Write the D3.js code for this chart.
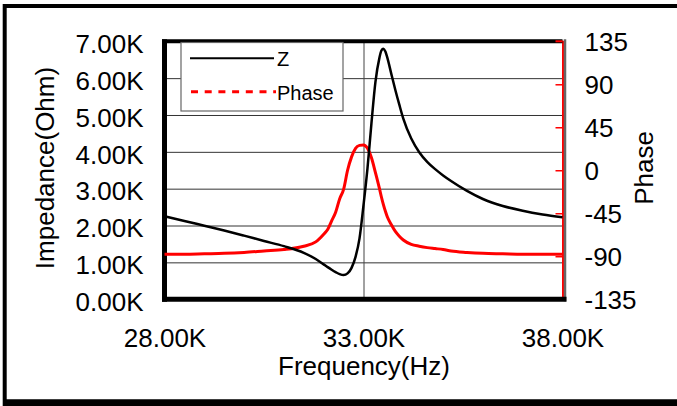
<!DOCTYPE html>
<html>
<head>
<meta charset="utf-8">
<script src="https://cdn.jsdelivr.net/npm/d3@7"></script>
<style>
body { margin: 0; background: #fff; }
svg { display: block; font-family: "Liberation Sans", Arial, sans-serif; }
</style>
</head>
<body>
<svg id="chart" width="677" height="406"></svg>
<script>
// frequency sweep (Hz) with impedance (Ohm) and phase (deg)
const freq = [28000, 28500, 29000, 29500, 30000, 30500, 31000, 31500, 31800, 32000,
    32100, 32200, 32300, 32400, 32500, 32600, 32700, 32800, 32900, 33000,
    33100, 33200, 33300, 33400, 33450, 33500, 33550, 33600, 33700, 33800,
    33900, 34000, 34200, 34400, 34600, 34800, 35000, 35200, 35600, 36000,
    36500, 37000, 37500, 38000];
const impedance = [2250, 2125, 1995, 1865, 1725, 1580, 1440, 1260, 1090, 945,
    870, 800, 735, 680, 655, 700, 850, 1150, 1650, 2550,
    3550, 4780, 5900, 6550, 6750, 6800, 6720, 6550, 6110, 5680,
    5280, 4900, 4360, 3990, 3730, 3530, 3360, 3210, 2940, 2720,
    2530, 2400, 2300, 2225];
const phase = [-88, -88, -87.5, -87, -86, -84.5, -83, -79.5, -75, -67,
    -62, -53, -44, -30, -20, 0, 14, 23, 26, 26.5,
    23, 13, -2.5, -19, -28, -36, -43, -49, -57, -64,
    -69, -73, -77.5, -79.5, -81, -82, -83, -84.5, -86, -87,
    -87.5, -88, -88, -88];

const freqTicks = [28000, 33000, 38000];
const zTicks = [0, 1000, 2000, 3000, 4000, 5000, 6000, 7000];
const phaseTicks = [-135, -90, -45, 0, 45, 90, 135];
const seriesNames = ["Z", "Phase"];

const svg = d3.select("#chart");
const plotL = 164.5, plotR = 562.5, plotT = 41.3, plotB = 299.2;

const x = d3.scaleLinear().domain([28000, 38000]).range([plotL, plotR]);
const yZ = d3.scaleLinear().domain([0, 7000]).range([plotB, plotT]);
const yP = d3.scaleLinear().domain([-135, 135]).range([plotB, plotT]);

const kfmt = d => (d / 1000).toFixed(2) + "K";

// outer frame (no right edge visible)
svg.append("line").attr("x1", 4.7).attr("x2", 4.7).attr("y1", 4).attr("y2", 406)
    .attr("stroke", "#000").attr("stroke-width", 4);
svg.append("line").attr("x1", 3).attr("x2", 677).attr("y1", 6).attr("y2", 6)
    .attr("stroke", "#000").attr("stroke-width", 4);
svg.append("line").attr("x1", 3).attr("x2", 677).attr("y1", 402.7).attr("y2", 402.7)
    .attr("stroke", "#000").attr("stroke-width", 7);

// horizontal grid
const grid = svg.append("g")
    .attr("transform", `translate(${plotL},0)`)
    .call(d3.axisLeft(yZ).tickValues(zTicks.slice(1, -1)).tickSize(-(plotR - plotL)).tickFormat(""));
grid.select(".domain").remove();
grid.selectAll(".tick line").attr("stroke", "#333").attr("stroke-width", 1);

// vertical grid at centre frequency
const vgrid = svg.append("g")
    .attr("transform", `translate(0,${plotB})`)
    .call(d3.axisBottom(x).tickValues([freqTicks[1]]).tickSize(-(plotB - plotT)).tickFormat(""));
vgrid.select(".domain").remove();
vgrid.selectAll(".tick line").attr("stroke", "#444").attr("stroke-width", 1);

// left axis labels
const yAxis = svg.append("g")
    .attr("transform", `translate(${plotL},0)`)
    .call(d3.axisLeft(yZ).tickValues(zTicks).tickSize(0).tickPadding(21).tickFormat(kfmt));
yAxis.select(".domain").remove();
yAxis.selectAll("text").attr("font-size", 26).attr("fill", "#000")
    .attr("font-family", "Liberation Sans, Arial, sans-serif").attr("dy", "0.43em");

// bottom axis labels
const xAxis = svg.append("g")
    .attr("transform", `translate(0,${plotB})`)
    .call(d3.axisBottom(x).tickValues(freqTicks).tickSize(0).tickPadding(29).tickFormat(kfmt));
xAxis.select(".domain").remove();
xAxis.selectAll("text").attr("font-size", 26).attr("fill", "#000")
    .attr("font-family", "Liberation Sans, Arial, sans-serif").attr("dy", "0.71em");

// right (phase) axis, red ticks pointing inward
const pAxis = svg.append("g")
    .attr("transform", `translate(${plotR},0)`)
    .call(d3.axisLeft(yP).tickValues(phaseTicks).tickSize(7).tickFormat(""));
pAxis.select(".domain").attr("stroke", "#f00").attr("stroke-width", 2);
pAxis.selectAll(".tick line").attr("stroke", "#f00").attr("stroke-width", 1.5);

const pLabels = svg.append("g")
    .attr("transform", `translate(${plotR},0)`)
    .call(d3.axisRight(yP).tickValues(phaseTicks).tickSize(0).tickPadding(22).tickFormat(d => String(d)));
pLabels.select(".domain").remove();
pLabels.selectAll("text").attr("font-size", 26).attr("fill", "#000")
    .attr("font-family", "Liberation Sans, Arial, sans-serif").attr("dy", "0.36em");

// plot frame
svg.append("line").attr("x1", plotR + 2.5).attr("x2", plotR + 2.5).attr("y1", plotT - 2).attr("y2", plotB + 2)
    .attr("stroke", "#666").attr("stroke-width", 2.5);
svg.append("line").attr("x1", plotL - 2.5).attr("x2", plotR).attr("y1", plotT).attr("y2", plotT)
    .attr("stroke", "#000").attr("stroke-width", 4);
svg.append("line").attr("x1", plotL).attr("x2", plotL).attr("y1", plotT - 2).attr("y2", plotB + 2.5)
    .attr("stroke", "#000").attr("stroke-width", 5);
svg.append("line").attr("x1", plotL - 2.5).attr("x2", plotR + 4).attr("y1", plotB).attr("y2", plotB)
    .attr("stroke", "#000").attr("stroke-width", 5);
svg.append("line").attr("x1", plotR - 7).attr("x2", plotR).attr("y1", plotT).attr("y2", plotT)
    .attr("stroke", "#f00").attr("stroke-width", 2);

// curves
const pts = freq.map((f, i) => ({ f, z: impedance[i], p: phase[i] }));

svg.append("path")
    .datum(pts)
    .attr("fill", "none")
    .attr("stroke", "#f00")
    .attr("stroke-width", 3)
    .attr("d", d3.line().x(d => x(d.f)).y(d => yP(d.p)).curve(d3.curveMonotoneX));

svg.append("path")
    .datum(pts)
    .attr("fill", "none")
    .attr("stroke", "#000")
    .attr("stroke-width", 2.5)
    .attr("d", d3.line().x(d => x(d.f)).y(d => yZ(d.z)).curve(d3.curveMonotoneX));

// legend
const legend = svg.append("g");
legend.append("rect")
    .attr("x", 181).attr("y", 42.5).attr("width", 162).attr("height", 68.5)
    .attr("fill", "#fff").attr("stroke", "#666").attr("stroke-width", 1.2);
legend.append("line").attr("x1", 190).attr("x2", 274).attr("y1", 58.3).attr("y2", 58.3)
    .attr("stroke", "#000").attr("stroke-width", 2);
legend.append("line").attr("x1", 191).attr("x2", 276).attr("y1", 91.7).attr("y2", 91.7)
    .attr("stroke", "#f00").attr("stroke-width", 3).attr("stroke-dasharray", "7,6.7");
legend.selectAll("text.leg")
    .data(seriesNames)
    .join("text")
    .attr("class", "leg")
    .attr("x", 277)
    .attr("y", (d, i) => i === 0 ? 66 : 100)
    .attr("font-size", 20)
    .attr("fill", "#000")
    .text(d => d);

// axis titles
svg.append("text")
    .attr("transform", "translate(54,168) rotate(-90)")
    .attr("text-anchor", "middle")
    .attr("font-size", 26)
    .text("Impedance(Ohm)");

svg.append("text")
    .attr("transform", "translate(653,168) rotate(-90)")
    .attr("text-anchor", "middle")
    .attr("font-size", 26)
    .text("Phase");

svg.append("text")
    .attr("x", 364)
    .attr("y", 375)
    .attr("text-anchor", "middle")
    .attr("font-size", 26)
    .text("Frequency(Hz)");
</script>
</body>
</html>
